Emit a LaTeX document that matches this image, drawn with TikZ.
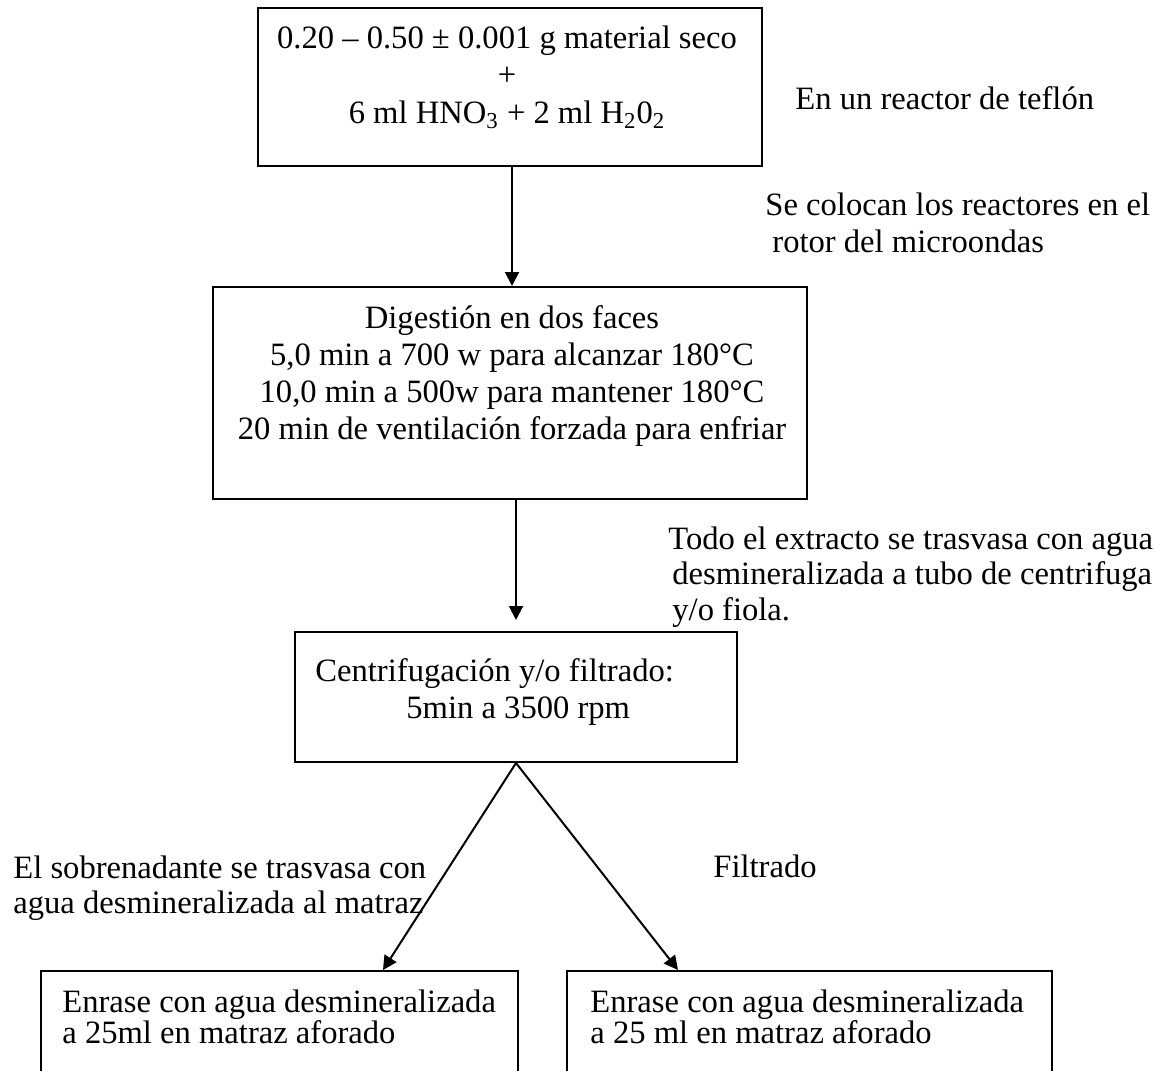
\documentclass[tikz,border=0pt]{standalone}
\usepackage{fontspec}
\setmainfont{Liberation Serif}
\usetikzlibrary{arrows.meta,calc}
\begin{document}
\begin{tikzpicture}[x=0.5pt,y=-0.5pt,
		every node/.style={font=\fontsize{16.3}{18.5}\selectfont, inner sep=0pt},
		caja/.style={draw, line width=1pt, minimum width=#1},
		flecha/.style={line width=1pt, -{Triangle[length=7pt,width=7pt]}}]
		\useasboundingbox (0,0) rectangle (1155,1070);
		\clip (0,0) rectangle (1155,1070);

		\node[caja=252pt, minimum height=79pt] (muestra) at (510,87) {};
		\node[caja=297pt, minimum height=106pt] (digestion) at (510,393) {};
		\node[caja=221pt, minimum height=65pt] (centri) at (516,697) {};
		\node[caja=238.5pt, minimum height=65pt] (enraseA) at (279.5,1036) {};
		\node[caja=242.5pt, minimum height=65pt] (enraseB) at (809.5,1036) {};

		\node[align=center, anchor=base] (tmuestra) at (507,123) {0.20 -- 0.50 ± 0.001 g material seco\\ +\\ 6 ml HNO\textsubscript{3} + 2 ml H\textsubscript{2}0\textsubscript{2}};
		\node[align=center, anchor=base] (tdigestion) at (512,439) {Digestión en dos faces\\ 5,0 min a 700 w para alcanzar 180°C\\ 10,0 min a 500w para mantener 180°C\\ 20 min de ventilación forzada para enfriar};
		\node[anchor=base west] (tcentri1) at (315,681) {Centrifugación y/o filtrado:};
		\node[anchor=base west] (tcentri2) at (406,718) {5min a 3500 rpm};
		\node[anchor=base west, align=left, font=\fontsize{16.3}{15.5}\selectfont] (tenraseA) at (62,1043) {Enrase con agua desmineralizada\\ a 25ml en matraz aforado};
		\node[anchor=base west, align=left, font=\fontsize{16.3}{15.5}\selectfont] (tenraseB) at (590,1043) {Enrase con agua desmineralizada\\ a 25 ml en matraz aforado};

		\node[anchor=base west] (reactor) at (795,110) {En un reactor de teflón};
		\node[anchor=base west, align=left] (rotor) at (765,252) {Se colocan los reactores en el\\ \hspace{3.5pt}rotor del microondas};
		\node[anchor=base west, align=left, font=\fontsize{16.3}{17.75}\selectfont] (trasvase) at (668,620) {Todo el extracto se trasvasa con agua\\ \hspace{2pt}desmineralizada a tubo de centrifuga\\ \hspace{2pt}y/o fiola.};
		\node[anchor=base west, align=left, font=\fontsize{16.3}{17.5}\selectfont] (sobrenadante) at (13,913) {El sobrenadante se trasvasa con\\ agua desmineralizada al matraz};
		\node[anchor=base west] (filtrado) at (713,877) {Filtrado};

		\draw[flecha] (muestra.south -| 512,0) -- (digestion.north -| 512,0);
		\draw[flecha, shorten >=5.5pt] (centri.north |- digestion.south) -- (centri.north);
		\draw[flecha] (centri.south) -- ($(enraseA.north)+(103.5,0)$);
		\draw[flecha] (centri.south) -- ($(enraseB.north)+(-131.5,0)$);
	\end{tikzpicture}
\end{document}
